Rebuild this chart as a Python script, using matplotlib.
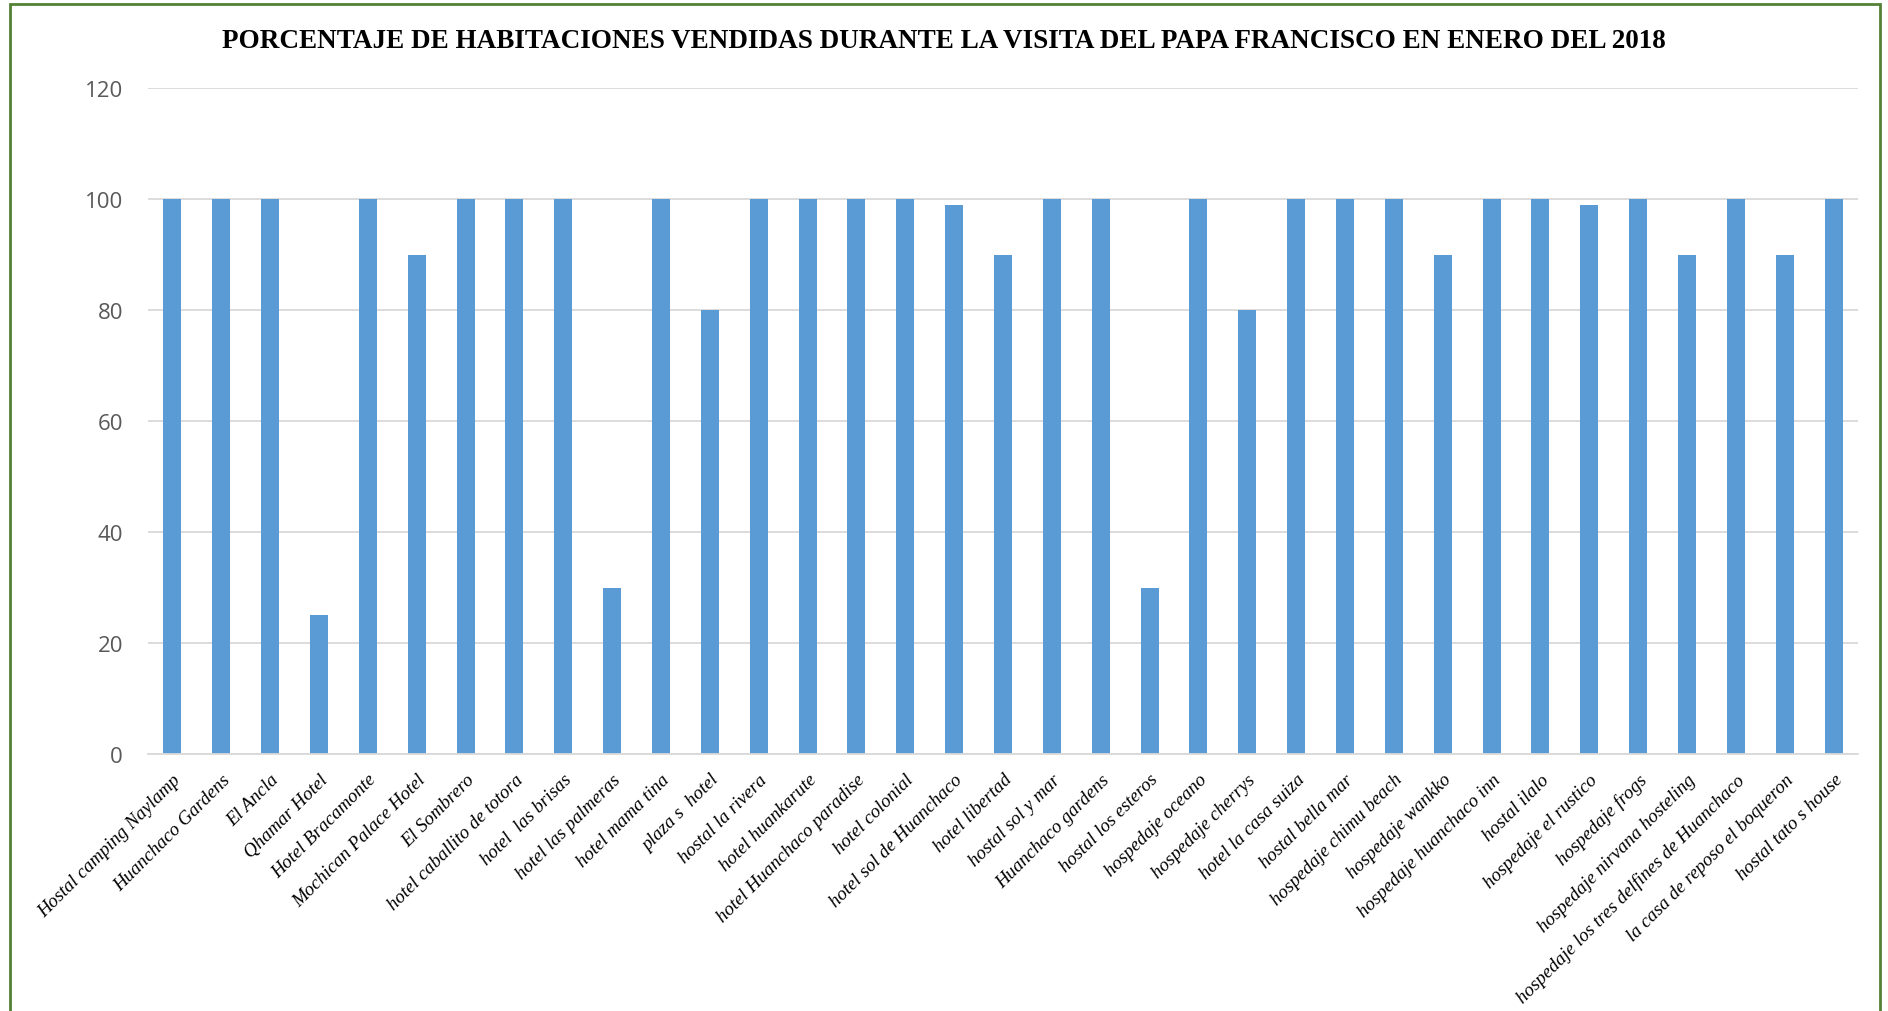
import numpy as np
import matplotlib.pyplot as plt
from matplotlib.patches import Rectangle

# datos
hoteles = [
    "Hostal camping Naylamp", "Huanchaco Gardens", "El Ancla", "Qhamar Hotel",
    "Hotel Bracamonte", "Mochican Palace Hotel", "El Sombrero",
    "hotel caballito de totora", "hotel  las brisas", "hotel las palmeras",
    "hotel mama tina", "plaza s  hotel", "hostal la rivera", "hotel huankarute",
    "hotel Huanchaco paradise", "hotel colonial", "hotel sol de Huanchaco",
    "hotel libertad", "hostal sol y mar", "Huanchaco gardens",
    "hostal los esteros", "hospedaje oceano", "hospedaje cherrys",
    "hotel la casa suiza", "hostal bella mar", "hospedaje chimu beach",
    "hospedaje wankko", "hospedaje huanchaco inn", "hostal ilalo",
    "hospedaje el rustico", "hospedaje frogs", "hospedaje nirvana hosteling",
    "hospedaje los tres delfines de Huanchaco", "la casa de reposo el boqueron",
    "hostal tato s house",
]
porcentaje = [100, 100, 100, 25, 100, 90, 100, 100, 100, 30, 100, 80, 100, 100,
              100, 100, 99, 90, 100, 100, 30, 100, 80, 100, 100, 100, 90, 100,
              100, 99, 100, 90, 100, 90, 100]
yticks = [0, 20, 40, 60, 80, 100, 120]

fig = plt.figure(figsize=(18.88, 10.12), dpi=100)
ax = fig.add_axes([148 / 1888, 1 - 755 / 1012, 1710 / 1888, 666 / 1012])

x = np.arange(len(hoteles))
ax.bar(x, porcentaje, width=0.37, color="#5b9bd5", zorder=2)

ax.set_xlim(-0.5, len(hoteles) - 0.5)
ax.set_ylim(0, 120)
ax.set_yticks(yticks)
ax.yaxis.grid(True, color="#d9d9d9", linewidth=1.3, zorder=0)
for s in ["top", "right", "left"]:
    ax.spines[s].set_visible(False)
ax.spines["bottom"].set_color("#d9d9d9")
ax.spines["bottom"].set_linewidth(1.3)
ax.tick_params(axis="y", length=0, pad=18, labelsize=16, labelcolor="#595959")
ax.tick_params(axis="x", length=0, pad=12)
ax.set_xticks(x)
ax.set_xticklabels(hoteles, rotation=45, ha="right", rotation_mode="anchor",
                   family="Liberation Serif", style="italic", fontsize=13.6)
for lab in ax.get_yticklabels():
    lab.set_family("Open Sans")

fig.text(0.5, 1 - 42 / 1012, "PORCENTAJE DE HABITACIONES VENDIDAS DURANTE LA VISITA DEL PAPA FRANCISCO EN ENERO DEL 2018",
         ha="center", va="center", family="Liberation Serif", weight="bold", fontsize=19.5)

# marco verde
fig.patches.append(Rectangle((10 / 1888, -0.02), 1870 / 1888, 1 - 5 / 1012 + 0.02,
                             transform=fig.transFigure, fill=False,
                             edgecolor="#538135", linewidth=2))

fig.savefig("out.png", dpi=100)
